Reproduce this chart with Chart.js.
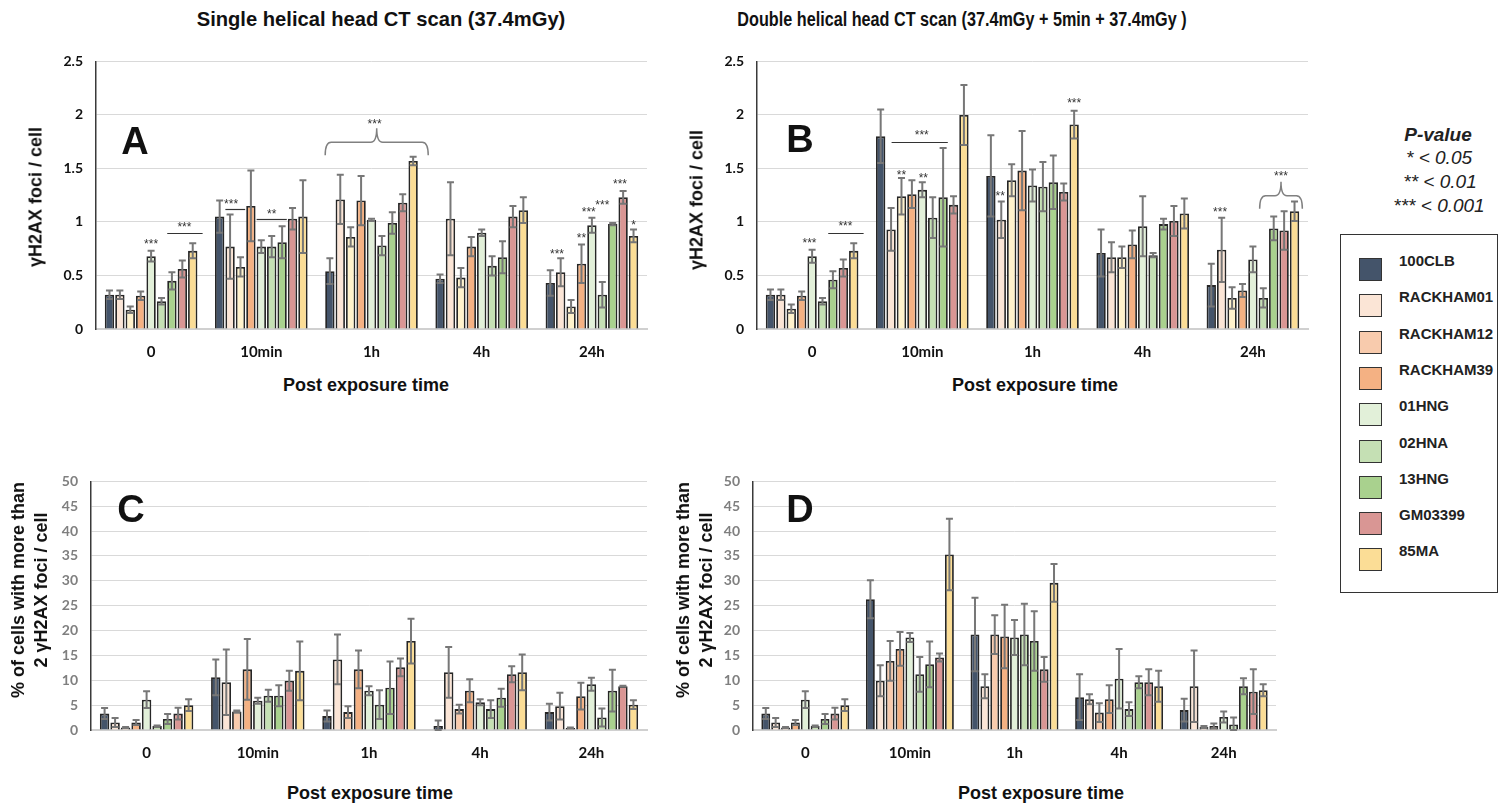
<!DOCTYPE html>
<html>
<head>
<meta charset="utf-8">
<script src="https://cdn.jsdelivr.net/npm/chart.js@4.4.1/dist/chart.umd.min.js"></script>
<style>
  body { margin: 0; background: #fff; width: 1500px; height: 807px; overflow: hidden; position: relative; font-family: "Liberation Sans", Arial, sans-serif; }
  canvas { position: absolute; }
  .t { position: absolute; transform: translate(-50%, -50%); white-space: nowrap; color: #111; }
  .title { font-family: "Liberation Sans Narrow", "Liberation Sans", Arial, sans-serif; font-weight: bold; }
  .ax { font-weight: bold; font-size: 18px; }
  .rot { transform: translate(-50%, -50%) rotate(-90deg); text-align: center; line-height: 23px; }
  .letter { font-weight: bold; font-size: 38px; }
  .pv { font-style: italic; font-size: 19px; color: #222; }
  #legend { position: absolute; left: 1340px; top: 234px; width: 156px; height: 357px; border: 1.5px solid #333; }
  .item { position: absolute; left: 18px; height: 23px; }
  .sw { position: absolute; left: 0; top: 0; width: 21px; height: 21px; border: 1.5px solid #333; }
  .lab { position: absolute; left: 40px; top: -6px; font-weight: bold; font-size: 15px; color: #222; white-space: nowrap; }
</style>
</head>
<body>
<canvas id="cA" width="660" height="330" style="left:0;top:40px"></canvas>
<canvas id="cB" width="660" height="330" style="left:660px;top:40px"></canvas>
<canvas id="cC" width="660" height="310" style="left:0;top:460px"></canvas>
<canvas id="cD" width="660" height="310" style="left:660px;top:460px"></canvas>

<div class="t title" style="left:381px;top:19px;font-size:21px;transform:translate(-50%,-50%) scaleX(0.96)">Single helical head CT scan (37.4mGy)</div>
<div class="t title" style="left:962px;top:19px;font-size:20px;transform:translate(-50%,-50%) scaleX(0.81)">Double helical head CT scan (37.4mGy + 5min + 37.4mGy )</div>

<div class="t ax rot" style="left:36px;top:197px">γH2AX foci / cell</div>
<div class="t ax rot" style="left:697px;top:200px">γH2AX foci / cell</div>
<div class="t ax rot" style="left:30px;top:590px">% of cells with more than<br>2 γH2AX foci / cell</div>
<div class="t ax rot" style="left:695px;top:590px">% of cells with more than<br>2 γH2AX foci / cell</div>

<div class="t ax" style="left:366px;top:385px">Post exposure time</div>
<div class="t ax" style="left:1035px;top:385px">Post exposure time</div>
<div class="t ax" style="left:370px;top:793px">Post exposure time</div>
<div class="t ax" style="left:1041px;top:793px">Post exposure time</div>

<div class="t letter" style="left:135px;top:141px">A</div>
<div class="t letter" style="left:800px;top:139px">B</div>
<div class="t letter" style="left:131px;top:509px">C</div>
<div class="t letter" style="left:800px;top:509px">D</div>

<div class="t pv" style="left:1438px;top:135px;font-weight:bold">P-value</div>
<div class="t pv" style="left:1439px;top:158px">* &lt; 0.05</div>
<div class="t pv" style="left:1440px;top:182px">** &lt; 0.01</div>
<div class="t pv" style="left:1439px;top:206px">*** &lt; 0.001</div>

<div id="legend"></div>

<script>
const categories = ['0', '10min', '1h', '4h', '24h'];
const lines = ['100CLB', 'RACKHAM01', 'RACKHAM12', 'RACKHAM39', '01HNG', '02HNA', '13HNG', 'GM03399', '85MA'];
const colors = ['#44546A', '#FBE5D6', '#F8CBAD', '#F4B183', '#E2F0D9', '#C5E0B4', '#A9D18E', '#D99694', '#FBDD96'];
const topColors = ['#44546A', '#FBE5D6', '#FFF2CC', '#F4B183', '#E2F0D9', '#C5E0B4', '#A9D18E', '#D99694', '#FBDD96'];
const fociTicks = ['0', '0.5', '1', '1.5', '2', '2.5'];
const pctTicks = ['0', '5', '10', '15', '20', '25', '30', '35', '40', '45', '50'];

// foci per cell, single scan (A)
const aMean = [
  [0.32, 1.05, 0.54, 0.47, 0.43],
  [0.32, 0.77, 1.21, 1.03, 0.53],
  [0.18, 0.58, 0.86, 0.48, 0.21],
  [0.31, 1.15, 1.20, 0.77, 0.61],
  [0.68, 0.77, 1.02, 0.90, 0.97],
  [0.26, 0.77, 0.78, 0.59, 0.32],
  [0.45, 0.81, 0.99, 0.67, 0.98],
  [0.56, 1.03, 1.18, 1.05, 1.23],
  [0.73, 1.05, 1.57, 1.11, 0.87]
];
const aErr = [
  [0.04, 0.15, 0.12, 0.04, 0.12],
  [0.04, 0.30, 0.23, 0.34, 0.13],
  [0.03, 0.09, 0.09, 0.09, 0.06],
  [0.04, 0.33, 0.23, 0.09, 0.18],
  [0.05, 0.06, 0.01, 0.03, 0.07],
  [0.03, 0.10, 0.09, 0.09, 0.12],
  [0.08, 0.15, 0.10, 0.15, 0.01],
  [0.08, 0.10, 0.08, 0.10, 0.06],
  [0.07, 0.34, 0.04, 0.12, 0.06]
];

// foci per cell, double scan (B)
const bMean = [
  [0.32, 1.80, 1.43, 0.71, 0.41],
  [0.32, 0.93, 1.02, 0.67, 0.74],
  [0.19, 1.24, 1.39, 0.67, 0.29],
  [0.31, 1.26, 1.48, 0.79, 0.36],
  [0.68, 1.30, 1.34, 0.96, 0.65],
  [0.26, 1.04, 1.33, 0.69, 0.29],
  [0.46, 1.23, 1.37, 0.98, 0.94],
  [0.57, 1.16, 1.28, 1.01, 0.92],
  [0.73, 2.00, 1.91, 1.08, 1.10]
];
const bErr = [
  [0.05, 0.25, 0.38, 0.22, 0.20],
  [0.05, 0.20, 0.17, 0.14, 0.30],
  [0.04, 0.17, 0.15, 0.10, 0.10],
  [0.04, 0.13, 0.37, 0.13, 0.06],
  [0.06, 0.07, 0.15, 0.28, 0.12],
  [0.03, 0.19, 0.23, 0.02, 0.09],
  [0.08, 0.46, 0.25, 0.05, 0.11],
  [0.08, 0.08, 0.08, 0.14, 0.18],
  [0.07, 0.28, 0.13, 0.14, 0.09]
];

// % cells with more than 2 foci, single scan (C)
const cMean = [
  [3.3, 10.6, 2.8, 0.8, 3.6],
  [1.5, 9.6, 14.2, 11.6, 4.8],
  [0.5, 3.7, 3.6, 4.2, 0.4],
  [1.5, 12.2, 12.2, 7.9, 6.8],
  [6.1, 5.9, 7.9, 5.6, 9.2],
  [0.8, 6.9, 5.1, 4.2, 2.5],
  [2.2, 6.9, 8.5, 6.5, 7.9],
  [3.3, 9.9, 12.6, 11.2, 8.8],
  [5.0, 11.9, 17.9, 11.6, 5.1]
];
const cErr = [
  [1.1, 3.6, 1.1, 1.1, 1.7],
  [0.9, 6.6, 5.0, 5.1, 2.7],
  [0.1, 0.2, 1.2, 0.9, 0.1],
  [0.5, 6.1, 3.8, 2.3, 2.7],
  [1.7, 0.6, 0.9, 0.6, 1.3],
  [0.1, 1.2, 2.9, 1.8, 1.8],
  [1.0, 2.1, 5.3, 1.8, 4.2],
  [1.2, 2.0, 1.8, 1.6, 0.1],
  [1.2, 5.9, 4.5, 3.6, 0.9]
];

// % cells with more than 2 foci, double scan (D)
const dMean = [
  [3.3, 26.3, 19.2, 6.6, 4.0],
  [1.5, 9.9, 8.8, 6.2, 8.8],
  [0.5, 13.9, 19.2, 3.5, 0.6],
  [1.5, 16.3, 18.8, 6.2, 0.8],
  [6.1, 18.6, 18.6, 10.3, 2.6],
  [0.8, 11.2, 19.2, 4.2, 1.1],
  [2.2, 13.2, 17.9, 9.6, 8.8],
  [3.3, 14.6, 12.2, 9.6, 7.7],
  [5.0, 35.3, 29.6, 8.8, 8.0]
];
const dErr = [
  [1.1, 3.8, 7.4, 4.6, 2.3],
  [0.9, 3.1, 2.4, 1.0, 7.2],
  [0.1, 4.0, 3.9, 1.9, 0.2],
  [0.5, 3.4, 6.4, 2.8, 0.5],
  [1.7, 0.9, 3.5, 6.0, 1.1],
  [0.1, 3.5, 6.2, 1.4, 1.4],
  [1.0, 4.6, 6.0, 1.2, 1.6],
  [1.2, 0.8, 2.5, 2.6, 4.5],
  [1.2, 7.2, 3.8, 3.1, 1.2]
];

// significance marks: [kind, group, bar, (bar2), y, text]
const sigA = [
  ['t', 0, 4, 0.82, '***'], ['l', 0, 6, 8.5, 0.895], ['t', 0, 7.2, 0.975, '***'],
  ['l', 1, 1, 2, 1.125], ['t', 1, 1.1, 1.185, '***'],
  ['l', 1, 4, 6, 1.03], ['t', 1, 5, 1.10, '**'],
  ['b', 2, 0, 9, 1.745], ['t', 2, 4.3, 1.94, '***'],
  ['t', 4, 0.65, 0.72, '***'], ['t', 4, 3, 0.87, '**'], ['t', 4, 3.7, 1.115, '***'],
  ['t', 4, 5, 1.18, '***'], ['t', 4, 6.7, 1.375, '***'], ['t', 4, 8, 0.99, '*']
];
const sigB = [
  ['t', 0, 3.75, 0.826, '***'], ['l', 0, 6, 8.5, 0.90], ['t', 0, 7.2, 0.98, '***'],
  ['l', 1, 1.5, 6, 1.75], ['t', 1, 3.95, 1.83, '***'],
  ['t', 1, 2, 1.46, '**'], ['t', 1, 4.1, 1.43, '**'],
  ['t', 2, 0.9, 1.26, '**'], ['t', 2, 8, 2.13, '***'],
  ['t', 4, 0.85, 1.115, '***'], ['b', 4, 5.1, 8.3, 1.245], ['t', 4, 6.7, 1.45, '***']
];

const errorBars = {
  id: 'errorBars',
  afterDatasetsDraw(chart) {
    const ctx = chart.ctx, y = chart.scales.y;
    ctx.save();
    ctx.strokeStyle = '#777';
    ctx.lineWidth = 2;
    chart.data.datasets.forEach((ds, i) => {
      chart.getDatasetMeta(i).data.forEach((bar, j) => {
        const v = ds.data[j], e = ds.errs[j];
        const top = y.getPixelForValue(v + e), bot = y.getPixelForValue(Math.max(0, v - e));
        ctx.beginPath();
        ctx.moveTo(bar.x, top); ctx.lineTo(bar.x, bot);
        ctx.moveTo(bar.x - 3.5, top); ctx.lineTo(bar.x + 3.5, top);
        ctx.moveTo(bar.x - 3.5, bot); ctx.lineTo(bar.x + 3.5, bot);
        ctx.stroke();
      });
    });
    ctx.restore();
  }
};

function sigMarks(list) {
  return {
    id: 'sigMarks',
    afterDatasetsDraw(chart) {
      const ctx = chart.ctx, y = chart.scales.y;
      const m0 = chart.getDatasetMeta(0).data, m1 = chart.getDatasetMeta(1).data;
      const half = m0[0].width / 2;
      const xAt = (g, s) => m0[g].x + s * (m1[g].x - m0[g].x);
      ctx.save();
      list.forEach(a => {
        if (a[0] === 't') {
          ctx.fillStyle = '#333';
          ctx.font = '12px "Liberation Sans", Arial, sans-serif';
          ctx.textAlign = 'center';
          ctx.textBaseline = 'middle';
          ctx.fillText(a[4], xAt(a[1], a[2]), y.getPixelForValue(a[3]) + 3);
        } else if (a[0] === 'l') {
          const py = Math.round(y.getPixelForValue(a[4])) + 0.5;
          ctx.strokeStyle = '#333';
          ctx.lineWidth = 1.2;
          ctx.beginPath();
          ctx.moveTo(xAt(a[1], a[2]) - half, py);
          ctx.lineTo(xAt(a[1], a[3]) + half, py);
          ctx.stroke();
        } else {
          const x1 = xAt(a[1], a[2]) - half, x2 = xAt(a[1], a[3]) + half, xm = (x1 + x2) / 2;
          const py = y.getPixelForValue(a[4]);
          ctx.strokeStyle = '#808080';
          ctx.lineWidth = 1.5;
          ctx.beginPath();
          ctx.moveTo(x1, py + 13);
          ctx.quadraticCurveTo(x1, py, x1 + 6, py);
          ctx.lineTo(xm - 6, py);
          ctx.quadraticCurveTo(xm, py, xm, py - 14);
          ctx.quadraticCurveTo(xm, py, xm + 6, py);
          ctx.lineTo(x2 - 6, py);
          ctx.quadraticCurveTo(x2, py, x2, py + 13);
          ctx.stroke();
        }
      });
      ctx.restore();
    }
  };
}

function panel(id, means, errs, palette, yMax, step, tickLabels, yW, padRight, padTop, xH, tickColor, marks) {
  const datasets = lines.map((n, i) => ({
    label: n,
    data: means[i],
    errs: errs[i],
    backgroundColor: palette[i],
    borderColor: '#262626',
    borderWidth: 1.8
  }));
  new Chart(document.getElementById(id), {
    type: 'bar',
    data: { labels: categories, datasets },
    options: {
      responsive: false,
      animation: false,
      devicePixelRatio: 1,
      layout: { padding: { top: padTop, right: padRight, left: 0, bottom: 0 } },
      datasets: { bar: { categoryPercentage: 0.85, barPercentage: 0.9 } },
      plugins: { legend: { display: false }, tooltip: { enabled: false } },
      scales: {
        x: {
          grid: { display: false, drawTicks: false },
          border: { color: '#d0d0d0', width: 2 },
          ticks: { color: '#111', padding: 14, font: { family: 'Lato', size: 15, weight: 'bold' } },
          afterFit: s => { s.height = xH; }
        },
        y: {
          min: 0, max: yMax,
          ticks: {
            stepSize: step, color: tickColor, padding: 13,
            font: { family: 'Lato', size: 14, weight: 'bold' },
            callback: (v, i) => tickLabels[i]
          },
          grid: { color: '#d9d9d9', drawTicks: false },
          border: { color: '#3a3a3a', width: 1.5 },
          afterFit: s => { s.width = yW; }
        }
      }
    },
    plugins: marks ? [errorBars, sigMarks(marks)] : [errorBars]
  });
}

panel('cA', aMean, aErr, topColors, 2.5, 0.5, fociTicks, 96, 13, 9, 41, '#111', sigA);
panel('cB', bMean, bErr, topColors, 2.5, 0.5, fociTicks, 97, 12, 9, 41, '#111', sigB);
panel('cC', cMean, cErr, colors, 50, 5, pctTicks, 91, 13, 10, 40, '#7f7f7f', null);
panel('cD', dMean, dErr, colors, 50, 5, pctTicks, 93, 44, 10, 40, '#7f7f7f', null);

// legend
const leg = document.getElementById('legend');
lines.forEach((n, i) => {
  const it = document.createElement('div');
  it.className = 'item';
  it.style.top = (23 + i * 36.3) + 'px';
  it.innerHTML = '<div class="sw" style="background:' + colors[i] + '"></div><div class="lab">' + n + '</div>';
  leg.appendChild(it);
});
</script>
</body>
</html>
